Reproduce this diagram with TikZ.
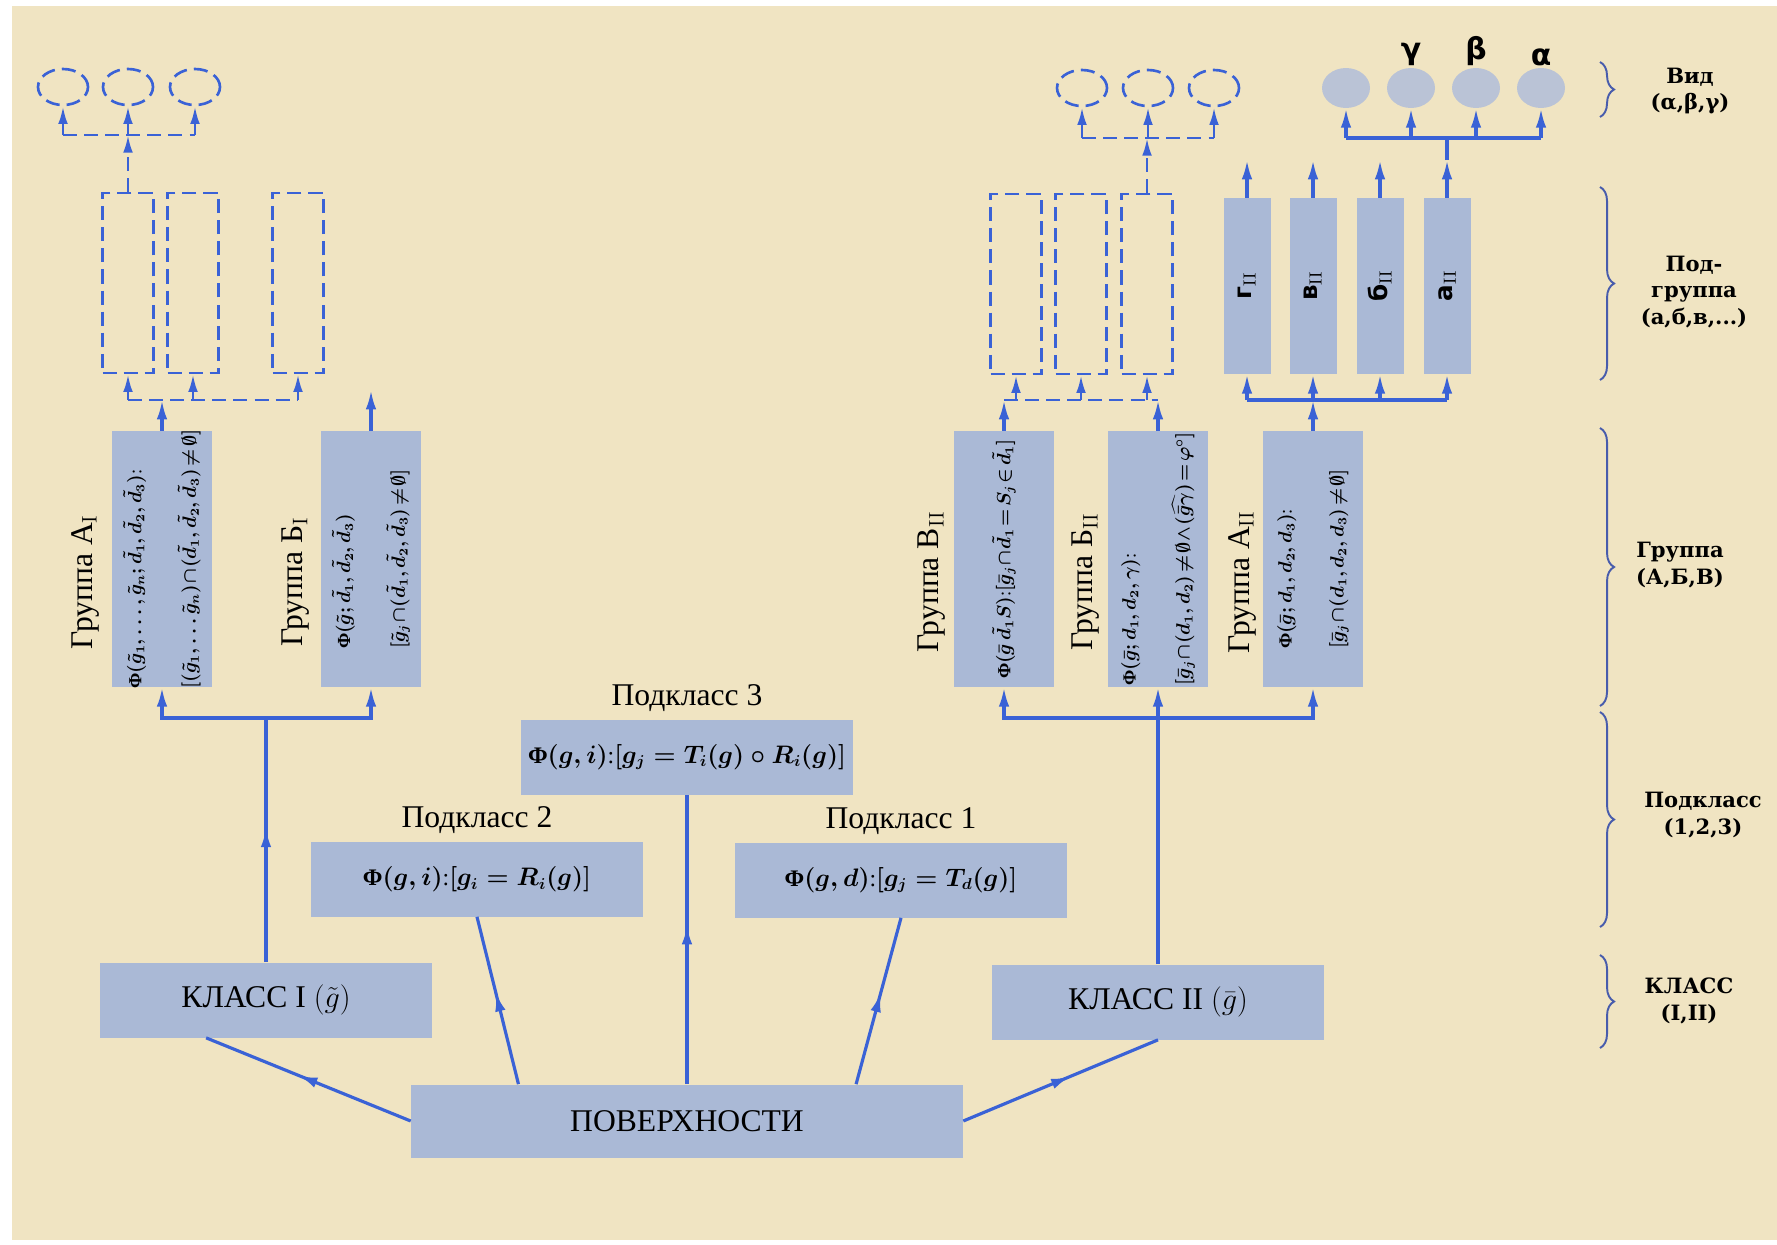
\documentclass[tikz,border=0pt]{standalone}
\usepackage{amsmath}
\usepackage[no-math]{fontspec}
\setmainfont{Liberation Serif}
\newfontfamily\lblfont{DejaVu Serif}
\newfontfamily\grkfont{DejaVu Sans}
\usetikzlibrary{arrows.meta,positioning,calc,shapes.geometric}
\usetikzlibrary{decorations.markings,decorations.pathreplacing}

\definecolor{paper}{RGB}{240,228,194}
\definecolor{boxblue}{RGB}{170,185,214}
\definecolor{lineblue}{RGB}{58,98,214}
\definecolor{dotblue}{RGB}{186,195,214}
\definecolor{bracecol}{RGB}{72,92,172}

\newcommand{\boxtext}{\fontsize{18}{20}\selectfont}
\newcommand{\formtext}{\fontsize{13.5}{16}\selectfont\boldmath}
\newcommand{\grptext}{\fontsize{10.5}{12.5}\selectfont\boldmath\medmuskip=1mu\relax\thickmuskip=2mu\relax}

\tikzset{
	box/.style={fill=boxblue, inner sep=0pt},
	bigbox/.style={box, minimum width=6.64cm, minimum height=1.5cm, font=\boxtext},
	formbox/.style={bigbox, font=\formtext},
	grpbox/.style={box, minimum width=2cm, minimum height=5.12cm},
	sgbox/.style={box, minimum width=0.94cm, minimum height=3.52cm},
	grpform/.style={rotate=90, align=left, inner sep=0pt, font=\grptext},
	grplbl/.style={rotate=90, inner sep=0pt, font=\fontsize{18}{20}\selectfont},
	sublbl/.style={inner sep=0pt, font=\boxtext},
	rlbl/.style={align=center, inner sep=0pt, font=\lblfont\bfseries\fontsize{12}{15}\selectfont},
	grk/.style={inner sep=0pt, font=\grkfont\bfseries\fontsize{17}{19}\selectfont},
	conn/.style={draw=lineblue, line width=1.8pt},
	arr/.style={conn, -{Latex[length=11pt,width=6pt]}},
	dconn/.style={draw=lineblue, line width=1.5pt, dash pattern=on 8pt off 4pt},
	darr/.style={dconn, -{Latex[length=10pt,width=5.5pt]}},
	midarrow/.style={postaction={decorate}, decoration={markings,
		mark=at position 0.55 with {\arrow{Latex[length=11pt,width=6pt,color=lineblue]}}}},
	dbox/.style={dconn, minimum width=1.02cm, minimum height=3.6cm, inner sep=0pt},
	dring/.style={dconn, ellipse, minimum width=1cm, minimum height=0.72cm, inner sep=0pt},
	vring/.style={fill=dotblue, ellipse, minimum width=0.96cm, minimum height=0.8cm, inner sep=0pt},
	brc/.style={draw=bracecol, line width=1.1pt, decorate, decoration={brace, amplitude=8pt}},
}

\begin{document}
\begin{tikzpicture}[x=0.02cm, y=-0.02cm]
	\fill[white] (0,0) rectangle (1777,1244);
	\fill[paper] (12,6) rectangle (1777,1240);
	\useasboundingbox (0,0) rectangle (1777,1244);

	\node[box, minimum width=11.04cm, minimum height=1.46cm, font=\boxtext] (pov) at (687,1121) {ПОВЕРХНОСТИ};
	\node[bigbox] (k1) at (266,1000) {КЛАСС I~$(\tilde g)$};
	\node[bigbox] (k2) at (1158,1002) {КЛАСС II~$(\bar g)$};

	\node[formbox] (sub2) at (477,879) {\textbf{Φ}$(g,i)$:$[g_i=R_i(g)]$};
	\node[formbox] (sub1) at (901,880) {\textbf{Φ}$(g,d)$:$[g_j=T_d(g)]$};
	\node[formbox] (sub3) at (687,757) {\textbf{Φ}$(g,i)$:$[g_j=T_i(g)\circ R_i(g)]$};
	\node[sublbl, above=0.14cm of sub2] (lsub2) {Подкласс 2};
	\node[sublbl, above=0.14cm of sub1] (lsub1) {Подкласс 1};
	\node[sublbl, above=0.14cm of sub3] (lsub3) {Подкласс 3};

	\node[grpbox] (gA1) at (162,559) {};
	\node[grpbox] (gB1) at (371,559) {};
	\node[grpbox] (gV2) at (1004,559) {};
	\node[grpbox] (gB2) at (1158,559) {};
	\node[grpbox] (gA2) at (1313,559) {};
	\node[grpform] (fA1) at (gA1.center) {\textbf{Φ}$(\tilde g_1,\dots,\tilde g_n;\tilde d_1,\tilde d_2,\tilde d_3)$:\\[17pt]$[(\tilde g_1,\dots\tilde g_n)\cap(\tilde d_1,\tilde d_2,\tilde d_3)\neq\emptyset]$};
	\node[grpform] (fB1) at (gB1.center) {\textbf{Φ}$(\tilde g;\tilde d_1,\tilde d_2,\tilde d_3)$\\[17pt]$[\tilde g_j\cap(\tilde d_1,\tilde d_2,\tilde d_3)\neq\emptyset]$};
	\node[grpform] (fV2) at (gV2.center) {\textbf{Φ}$(\bar g\,\tilde d_1S)$:$[\bar g_j\cap\tilde d_1=S_j\in\tilde d_1]$};
	\node[grpform] (fB2) at (gB2.center) {\textbf{Φ}$(\bar g;d_1,d_2,\gamma)$:\\[17pt]$[\bar g_j\cap(d_1,d_2)\neq\emptyset\wedge(\widehat{\bar g\gamma})=\varphi^\circ]$};
	\node[grpform] (fA2) at (gA2.center) {\textbf{Φ}$(\bar g;d_1,d_2,d_3)$:\\[17pt]$[\bar g_j\cap(d_1,d_2,d_3)\neq\emptyset]$};
	\node[grplbl] (lA1) at (85,582) {Группа А$_{\mathrm{I}}$};
	\node[grplbl] (lB1) at (296,582) {Группа Б$_{\mathrm{I}}$};
	\node[grplbl] (lV2) at (932,582) {Группа В$_{\mathrm{II}}$};
	\node[grplbl] (lB2) at (1086,582) {Группа Б$_{\mathrm{II}}$};
	\node[grplbl] (lA2) at (1242,582) {Группа А$_{\mathrm{II}}$};

	\foreach \n/\x/\lbl in {1/1247/г,2/1313/в,3/1380/б,4/1447/а}
		\node[sgbox] (sg\n) at (\x,286) {\rotatebox{90}{\grkfont\bfseries\fontsize{14}{16}\selectfont\lbl$_{\mathrm{II}}$}};
	\foreach \n/\x in {1/128,2/193,3/298}
		\node[dbox] (dl\n) at (\x,283) {};
	\foreach \n/\x in {1/1016,2/1081,3/1147}
		\node[dbox] (dr\n) at (\x,284) {};
	\foreach \n/\x in {1/63,2/128,3/195}
		\node[dring] (cl\n) at (\x,87) {};
	\foreach \n/\x in {1/1082,2/1148,3/1214}
		\node[dring] (cr\n) at (\x,88) {};
	\foreach \n/\x in {1/1346,2/1411,3/1476,4/1541}
		\node[vring] (v\n) at (\x,88) {};
	\node[grk, above=1pt of v2] (lgam) {γ};
	\node[grk, above=1pt of v3] (lbet) {β};
	\node[grk, above=1pt of v4] (lalp) {α};

	\draw[conn,midarrow] (pov.west) -- ($(k1.south west)!0.32!(k1.south east)$);
	\draw[conn,midarrow] ($(pov.north west)!0.195!(pov.north east)$) -- (sub2.south);
	\draw[conn,midarrow] (pov.north) -- (sub3.south);
	\draw[conn,midarrow] ($(pov.north west)!0.806!(pov.north east)$) -- (sub1.south);
	\draw[conn,midarrow] (pov.east) -- (k2.south);

	\coordinate (bL) at (266,718);
	\draw[conn,midarrow] (k1.north) -- (bL);
	\draw[arr] (bL) -| (gA1.south);
	\draw[arr] (bL) -| (gB1.south);
	\coordinate (bR) at (1158,718);
	\draw[conn] (k2.north) -- (bR);
	\draw[arr] (bR) -| (gV2.south);
	\draw[arr] (bR) -- (gB2.south);
	\draw[arr] (bR) -| (gA2.south);

	\coordinate (dL) at (162,400);
	\draw[arr] (gA1.north) -- (dL);
	\draw[dconn] (dl1.south |- dL) -- (dl3.south |- dL);
	\foreach \n in {1,2,3}
		\draw[darr] (dl\n.south |- dL) -- (dl\n.south);
	\coordinate (tB1) at (371,390);
	\draw[arr] (gB1.north) -- (tB1);

	\coordinate (dV) at (1004,400);
	\coordinate (dB) at (1158,400);
	\draw[arr] (gV2.north) -- (dV);
	\draw[arr] (gB2.north) -- (dB);
	\draw[dconn] (dV) -- (dB);
	\foreach \n in {1,2,3}
		\draw[darr] (dr\n.south |- dV) -- (dr\n.south);

	\coordinate (sA) at (1313,400);
	\draw[arr] (gA2.north) -- (sA);
	\draw[conn] (sg1.south |- sA) -- (sg4.south |- sA);
	\foreach \n in {1,...,4}
		\draw[arr] (sg\n.south |- sA) -- (sg\n.south);
	\coordinate (tS) at (1447,160);
	\coordinate (vB) at (1447,138);
	\foreach \n in {1,...,4}
		\draw[arr] (sg\n.north) -- (sg\n.north |- tS);
	\draw[conn] (tS) -- (vB);
	\draw[conn] (v1.south |- vB) -- (v4.south |- vB);
	\foreach \n in {1,...,4}
		\draw[arr] (v\n.south |- vB) -- (v\n.south);

	\coordinate (cL) at (128,135);
	\draw[darr] (dl1.north) -- (cL);
	\draw[dconn] (cl1.south |- cL) -- (cl3.south |- cL);
	\foreach \n in {1,2,3}
		\draw[darr] (cl\n.south |- cL) -- (cl\n.south);
	\coordinate (cR) at (1147,138);
	\draw[darr] (dr3.north) -- (cR);
	\draw[dconn] (cr1.south |- cR) -- (cr3.south |- cR);
	\foreach \n in {1,2,3}
		\draw[darr] (cr\n.south |- cR) -- (cr\n.south);

	\draw[brc] (1600,62) -- (1600,117);
	\draw[brc] (1600,187) -- (1600,380);
	\draw[brc] (1600,428) -- (1600,706);
	\draw[brc] (1600,712) -- (1600,927);
	\draw[brc] (1600,955) -- (1600,1048);
	\node[rlbl] (rvid) at (1690,91) {Вид\\(α,β,γ)};
	\node[rlbl] (rsg) at (1694,292) {Под-\\группа\\(а,б,в,...)};
	\node[rlbl] (rgr) at (1680,565) {Группа\\(А,Б,В)};
	\node[rlbl] (rsub) at (1703,815) {Подкласс\\(1,2,3)};
	\node[rlbl] (rkl) at (1689,1001) {КЛАСС\\(I,II)};
\end{tikzpicture}
\end{document}
